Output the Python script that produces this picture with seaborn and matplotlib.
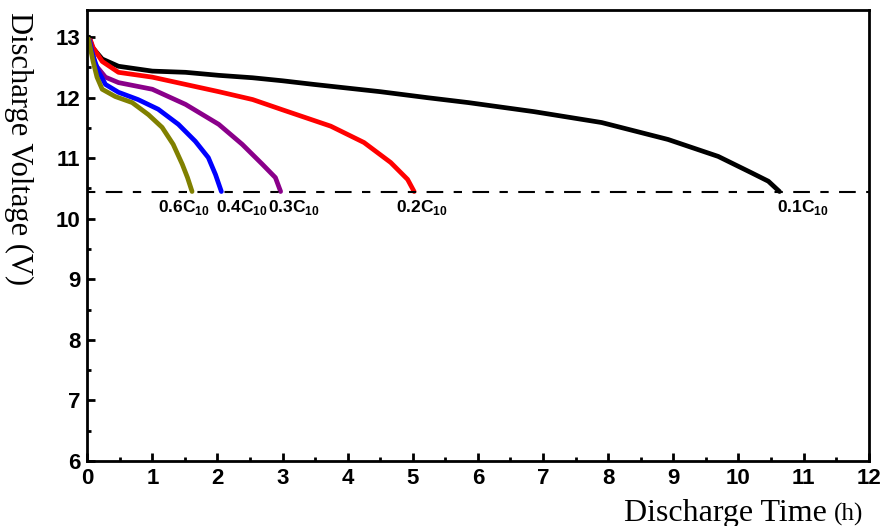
import matplotlib
matplotlib.use("Agg")
import matplotlib.pyplot as plt
import pandas as pd
import seaborn as sns
from matplotlib.ticker import MultipleLocator

sns.set_theme(style="ticks")
plt.rcParams["font.family"] = ["Liberation Sans", "DejaVu Sans"]
plt.rcParams["mathtext.fontset"] = "custom"
plt.rcParams["mathtext.bf"] = "Liberation Sans:bold"
plt.rcParams["mathtext.rm"] = "Liberation Sans:bold"
plt.rcParams["text.color"] = "black"
plt.rcParams["xtick.color"] = "black"
plt.rcParams["ytick.color"] = "black"

# discharge curves (time in h, voltage in V)
t_01 = [0.03, 0.08, 0.23, 0.48, 1.0, 1.51, 2.02, 2.54, 3.0, 3.48, 4.5, 5.23, 5.85,
        6.86, 7.9, 8.92, 9.69, 10.2, 10.46, 10.63]
v_01 = [13.0, 12.83, 12.64, 12.52, 12.44, 12.42, 12.37, 12.33, 12.28, 12.22, 12.1, 12.0,
        11.92, 11.77, 11.59, 11.31, 11.03, 10.76, 10.62, 10.45]
t_02 = [0.05, 0.09, 0.23, 0.48, 1.0, 1.51, 2.02, 2.54, 3.0, 3.74, 4.25, 4.66, 4.92, 5.02]
v_02 = [12.95, 12.83, 12.6, 12.42, 12.34, 12.22, 12.1, 11.97, 11.8, 11.53, 11.26, 10.93,
        10.65, 10.45]
t_03 = [0.04, 0.12, 0.28, 0.48, 1.0, 1.51, 2.02, 2.38, 2.69, 2.89, 2.97]
v_03 = [12.95, 12.55, 12.34, 12.25, 12.14, 11.89, 11.56, 11.23, 10.9, 10.68, 10.45]
t_04 = [0.03, 0.08, 0.17, 0.28, 0.48, 0.78, 1.09, 1.4, 1.66, 1.86, 1.97, 2.06]
v_04 = [12.95, 12.72, 12.44, 12.22, 12.09, 11.97, 11.81, 11.56, 11.28, 11.01, 10.73, 10.45]
t_06 = [0.02, 0.09, 0.15, 0.23, 0.43, 0.69, 0.94, 1.15, 1.32, 1.46, 1.54, 1.61]
v_06 = [12.97, 12.6, 12.34, 12.14, 12.02, 11.92, 11.72, 11.51, 11.23, 10.9, 10.68, 10.45]

cutoff = 10.45
rates = ["0.1", "0.2", "0.3", "0.4", "0.6"]
colors = ["black", "#ff0000", "#8a008a", "#0000ff", "#808000"]
label_x = [10.6, 4.74, 2.78, 1.97, 1.08]

series = {"0.1": (t_01, v_01), "0.2": (t_02, v_02), "0.3": (t_03, v_03),
          "0.4": (t_04, v_04), "0.6": (t_06, v_06)}

fig = plt.figure(figsize=(8.9, 5.26), dpi=100)
ax = fig.add_axes([0.098, 0.124, 0.878, 0.857])

for rate, color in zip(rates, colors):
    t, v = series[rate]
    df = pd.DataFrame({"t": t, "v": v})
    sns.lineplot(data=df, x="t", y="v", color=color, lw=3.4, sort=False, ax=ax)

ax.axhline(cutoff, color="black", lw=1.5, linestyle=(0, (4, 5, 8, 5)))

for rate, lx in zip(rates, label_x):
    ax.text(lx, cutoff - 0.11, rate + r"C$_{\mathbf{10}}$", fontsize=12.5,
            fontweight="bold", ha="left", va="top")

ax.set_xlim(0, 12)
ax.set_ylim(6, 13.45)
ax.xaxis.set_major_locator(MultipleLocator(1))
ax.xaxis.set_minor_locator(MultipleLocator(0.5))
ax.yaxis.set_major_locator(MultipleLocator(1))
ax.yaxis.set_minor_locator(MultipleLocator(0.5))
ax.tick_params(which="both", direction="in", width=2, top=False, right=False,
               colors="black")
ax.tick_params(which="major", length=6, labelsize=16, pad=5)
ax.tick_params(which="minor", length=3)
for lab in ax.get_xticklabels() + ax.get_yticklabels():
    lab.set_fontweight("bold")
for sp in ax.spines.values():
    sp.set_linewidth(2)
    sp.set_color("black")

ax.set_xlabel("")
ax.set_ylabel("")
serif = ["Liberation Serif", "DejaVu Serif"]
fig.text(0.004, 0.978, "Discharge Voltage (V)", rotation=270, fontsize=22,
         family=serif, ha="left", va="top")
fig.text(0.701, 0.01, "Discharge Time", fontsize=23, family=serif,
         ha="left", va="baseline")
fig.text(0.937, 0.01, "(h)", fontsize=18, family=serif, ha="left", va="baseline")

fig.savefig("out.png", dpi=100)
